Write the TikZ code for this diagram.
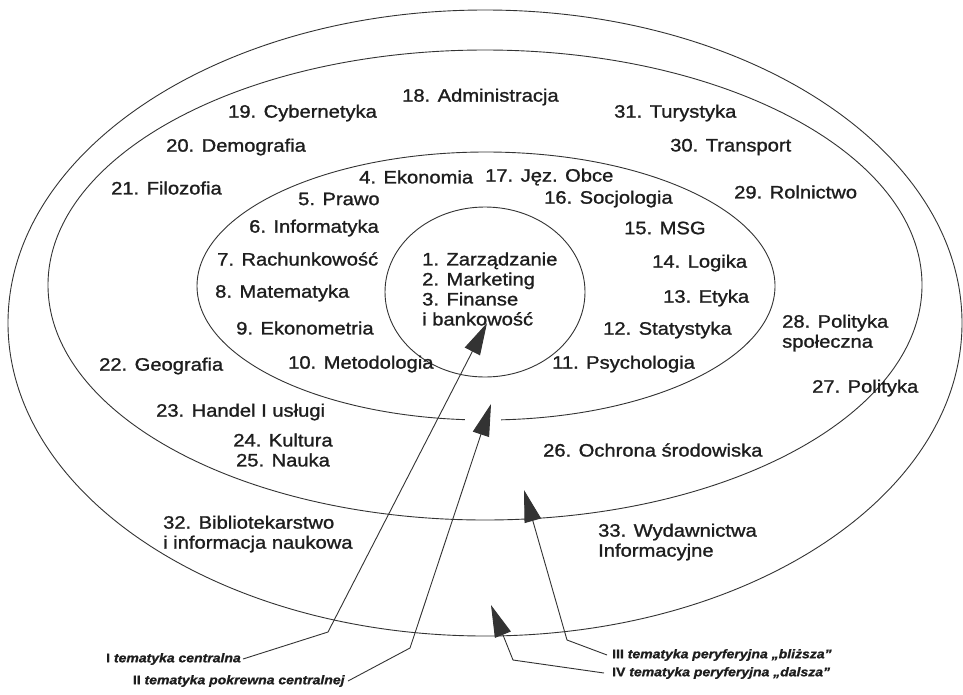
\documentclass[tikz,border=0pt]{standalone}
\usepackage{fontspec}
\setmainfont{Liberation Sans}[FakeStretch=1.12, FakeBold=1.2]
\usetikzlibrary{arrows.meta}
\definecolor{ink}{HTML}{1E1E1E}
\definecolor{lin}{HTML}{333333}
\begin{document}
\begin{tikzpicture}[x=1pt,y=-1pt,
  lab/.style={font=\fontsize{18}{20}\selectfont, text=ink, inner sep=0pt, anchor=west, align=left},
  tag/.style={font=\fontsize{12.5}{14}\selectfont\bfseries, text=ink, inner sep=0pt},
  ring/.style={draw=lin, line width=0.9pt},
  conn/.style={draw=lin, line width=0.9pt},
  arr/.style={conn, -{Triangle[length=32pt,width=17pt]}}]
\useasboundingbox (0,0) rectangle (963,694);
\fill[white] (0,0) rectangle (963,694);
% rings
\draw[ring] (485,323) ellipse [x radius=477pt, y radius=313pt];
\draw[ring] (485,285) ellipse [x radius=437pt, y radius=235pt];
\draw[ring] (486,286) ellipse [x radius=289pt, y radius=134pt];
\draw[ring] (485,292) ellipse [x radius=100pt, y radius=85pt];
\fill[white] (465,413) rectangle (501,428);
% centre
\node[lab] (n1) at (422,289) {1. Zarządzanie\\2. Marketing\\3. Finanse\\i bankowość};
% inner ring
\node[lab] (n4) at (359,177) {4. Ekonomia};
\node[lab] (n17) at (485,177) {17. Jęz. Obce};
\node[lab] (n5) at (298,199) {5. Prawo};
\node[lab] (n16) at (544,199) {16. Socjologia};
\node[lab] (n6) at (249,228) {6. Informatyka};
\node[lab] (n15) at (624,228) {15. MSG};
\node[lab] (n7) at (217,259) {7. Rachunkowość};
\node[lab] (n14) at (652,263) {14. Logika};
\node[lab] (n8) at (215,293) {8. Matematyka};
\node[lab] (n13) at (663,298) {13. Etyka};
\node[lab] (n9) at (236,328) {9. Ekonometria};
\node[lab] (n12) at (603,330) {12. Statystyka};
\node[lab] (n10) at (288,364) {10. Metodologia};
\node[lab] (n11) at (552,364) {11. Psychologia};
% second ring
\node[lab] (n18) at (402,97) {18. Administracja};
\node[lab] (n19) at (228,113) {19. Cybernetyka};
\node[lab] (n31) at (614,113) {31. Turystyka};
\node[lab] (n20) at (166,147) {20. Demografia};
\node[lab] (n30) at (670,147) {30. Transport};
\node[lab] (n21) at (111,188) {21. Filozofia};
\node[lab] (n29) at (734,192) {29. Rolnictwo};
\node[lab] (n28) at (782,333) {28. Polityka\\społeczna};
\node[lab] (n22) at (99,366) {22. Geografia};
\node[lab] (n27) at (812,388) {27. Polityka};
\node[lab] (n23) at (156,412) {23. Handel I usługi};
\node[lab, anchor=center, align=center] (n24) at (283,450) {24. Kultura\\25. Nauka};
\node[lab] (n26) at (543,450) {26. Ochrona środowiska};
% outer ring
\node[lab] (n32) at (163,534) {32. Bibliotekarstwo\\i informacja naukowa};
\node[lab] (n33) at (598,542) {33. Wydawnictwa\\Informacyjne};
% legend labels
\node[tag, anchor=east] (labI) at (241,659) {I \textit{tematyka centralna}};
\node[tag, anchor=east] (labII) at (345,681) {II \textit{tematyka pokrewna centralnej}};
\node[tag, anchor=west] (labIII) at (612,655) {III \textit{tematyka peryferyjna „bliższa”}};
\node[tag, anchor=west] (labIV) at (612,673) {IV \textit{tematyka peryferyjna „dalsza”}};
\coordinate (kI) at (328,632);
\coordinate (tI) at (487,323);
\coordinate (kII) at (410,648);
\coordinate (tII) at (491,404);
\coordinate (kIII) at (567,640);
\coordinate (tIII) at (524,490);
\coordinate (kIV) at (513,660);
\coordinate (tIV) at (491,605);
\draw[arr] ([xshift=2pt]labI.east) -- (kI) -- (tI);
\draw[arr] ([xshift=3pt]labII.east) -- (kII) -- (tII);
\draw[arr] ([xshift=-5pt]labIII.west) -- (kIII) -- (tIII);
\draw[arr] ([xshift=-8pt]labIV.west) -- (kIV) -- (tIV);
\end{tikzpicture}
\end{document}
